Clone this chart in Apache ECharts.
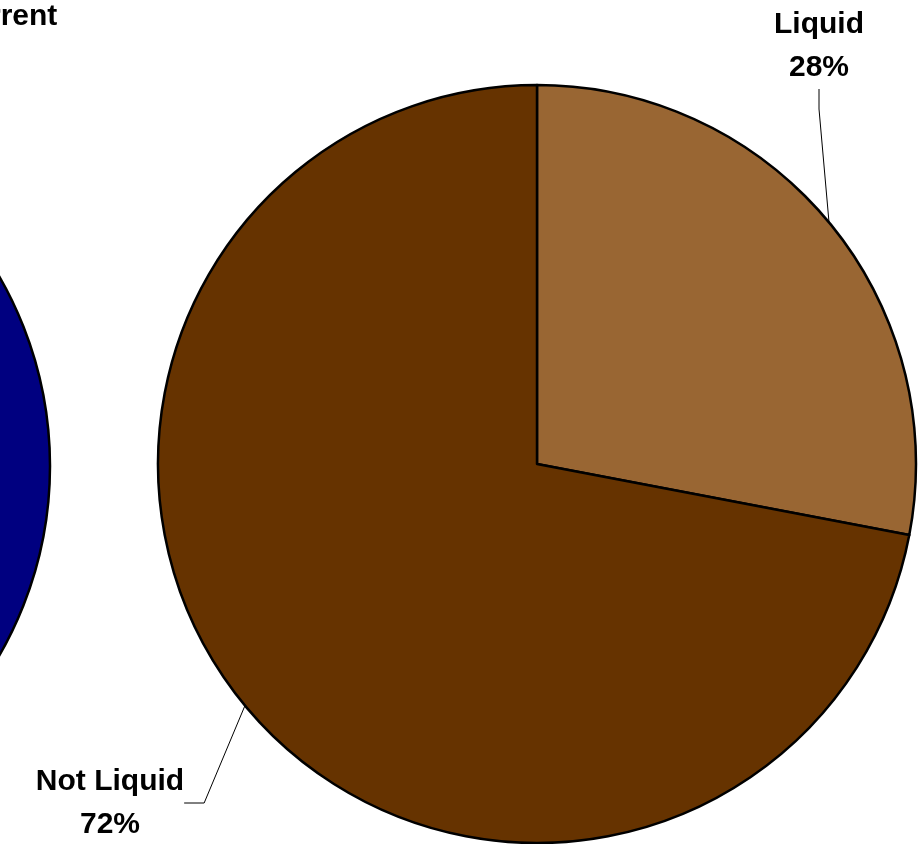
<!DOCTYPE html>
<html>
<head>
<meta charset="utf-8">
<script src="https://cdn.jsdelivr.net/npm/echarts@6/dist/echarts.min.js"></script>
<style>
  html, body { margin: 0; padding: 0; background: #fff; }
  #chart { width: 919px; height: 844px; }
</style>
</head>
<body>
<div id="chart"></div>
<script>
// slices of the pie on the right
const categories = ['Liquid', 'Not Liquid']
const values = [28, 72]
const sliceColors = ['#996633', '#663300']
// the pie cut off on the left, only its edge shows
const leftTitle = 'Current'
const leftValues = [100]

// where the labels sit (centre of the text block)
const labelSpots = [[819, 46], [110, 803]]

var myChart = echarts.init(document.getElementById('chart'), null, { renderer: 'canvas' })

var option = {
  animation: false,
  backgroundColor: '#fff',
  textStyle: { fontFamily: 'Liberation Sans, Arial, sans-serif' },
  title: {
    text: leftTitle,
    left: -51,
    top: 2,
    padding: 0,
    textStyle: {
      color: '#000',
      fontSize: 30,
      fontWeight: 'bold',
      fontFamily: 'Liberation Sans, Arial, sans-serif'
    }
  },
  series: [
    {
      type: 'pie',
      center: [-329, 466],
      radius: [0, 379],
      silent: true,
      label: { show: false },
      labelLine: { show: false },
      itemStyle: { color: '#000080', borderColor: '#000', borderWidth: 2.5 },
      data: leftValues.map(v => ({ value: v, name: leftTitle }))
    },
    {
      type: 'pie',
      center: [537, 464],
      radius: [0, 379],
      startAngle: 90,
      clockwise: true,
      silent: true,
      itemStyle: { borderColor: '#000', borderWidth: 2.5 },
      label: {
        show: true,
        position: 'outside',
        color: '#000',
        fontSize: 30,
        fontWeight: 'bold',
        lineHeight: 43,
        align: 'center',
        overflow: 'none',
        fontFamily: 'Liberation Sans, Arial, sans-serif',
        formatter: p => p.name + '\n' + Math.round(p.percent) + '%'
      },
      labelLine: {
        show: true,
        length: 20,
        length2: 20,
        lineStyle: { color: '#000', width: 1 }
      },
      labelLayout: function (params) {
        const s = labelSpots[params.dataIndex]
        return { x: s[0], y: s[1], align: 'center', verticalAlign: 'middle' }
      },
      data: categories.map((c, i) => ({
        name: c,
        value: values[i],
        itemStyle: { color: sliceColors[i] }
      }))
    }
  ]
}

myChart.setOption(option, true)
</script>
</body>
</html>
